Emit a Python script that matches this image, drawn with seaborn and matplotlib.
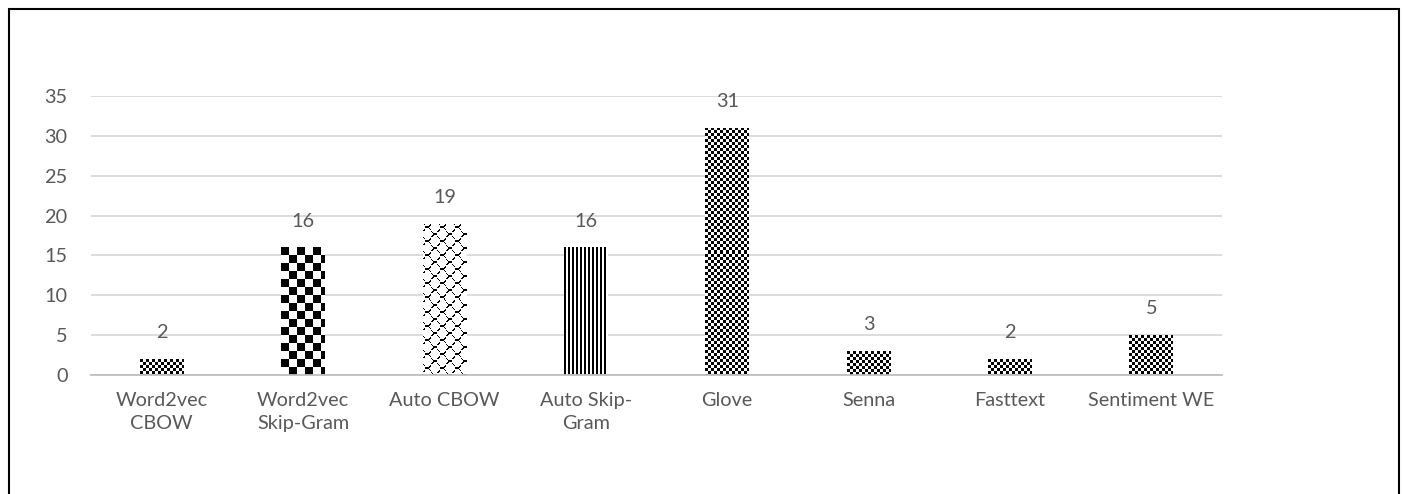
import numpy as np
import matplotlib
matplotlib.use("Agg")
import matplotlib.pyplot as plt
from matplotlib.patches import Rectangle
import seaborn as sns

# Embedding methods and their counts
categories = ["Word2vec\nCBOW", "Word2vec\nSkip-Gram", "Auto CBOW", "Auto Skip-\nGram",
              "Glove", "Senna", "Fasttext", "Sentiment WE"]
counts = [2, 16, 19, 16, 31, 3, 2, 5]
patterns = ["small_check", "large_check", "wave", "vlines",
            "small_check", "small_check", "small_check", "small_check"]
y_ticks = [0, 5, 10, 15, 20, 25, 30, 35]

TEXT = "#595959"
FS = 14.3
sns.set_theme(style="white")
plt.rcParams["font.family"] = ["Lato", "DejaVu Sans"]

fig = plt.figure(figsize=(14.03, 4.94), dpi=100)
ax = fig.add_axes([91 / 1403, 1 - 375 / 494, (1222 - 91) / 1403, (375 - 96) / 494])

sns.barplot(x=categories, y=counts, color="white", width=0.31, ax=ax,
            edgecolor="none", linewidth=0, zorder=2)

ax.set_xlim(-0.5, len(categories) - 0.5)
ax.set_ylim(0, 35)
ax.set_yticks(y_ticks)
ax.set_yticklabels([str(t) for t in y_ticks])
ax.yaxis.grid(True, color="#d9d9d9", linewidth=1.3, zorder=0)
ax.set_axisbelow(True)
for s in ["top", "right", "left"]:
    ax.spines[s].set_visible(False)
ax.spines["bottom"].set_color("#bfbfbf")
ax.spines["bottom"].set_linewidth(1.3)
ax.spines["bottom"].set_zorder(3)

ax.tick_params(axis="y", length=0, pad=17, labelsize=FS, labelcolor=TEXT)
ax.tick_params(axis="x", which="major", length=0, pad=12.5, labelsize=FS, labelcolor=TEXT)
ax.set_xticks(np.arange(-0.5, len(categories), 1.0), minor=True)
ax.tick_params(axis="x", which="minor", length=6, width=1.3, color="#bfbfbf", direction="out")
for lbl in ax.get_xticklabels():
    lbl.set_linespacing(1.42)
ax.set_xlabel("")
ax.set_ylabel("")


def tile_pattern(kind, h, w):
    yy, xx = np.mgrid[0:h, 0:w]
    if kind == "small_check":
        ink = ((xx // 3) + (yy // 3)) % 2 == 0
    elif kind == "large_check":
        ink = ((xx // 8) + (yy // 8)) % 2 == 0
    elif kind == "vlines":
        ink = (xx % 4) < 2
    else:  # interlocking stepped wave
        P, V = 15, 14
        ink = np.zeros((h, w), bool)
        for sgn, shift in ((1, 0), (-1, V // 2)):
            base = np.round(3.5 * np.sin(sgn * 2 * np.pi * xx / P)).astype(int)
            d = (yy - base - shift) % V
            ink |= d == 0
        ink |= np.roll(ink, 1, axis=1) & np.roll(ink, 1, axis=0)
    return np.where(ink, 0.0, 1.0)


fig.canvas.draw()
for patch, kind, val in zip(ax.patches, patterns, counts):
    x0, y0 = patch.get_x(), patch.get_y()
    x1, y1 = x0 + patch.get_width(), y0 + patch.get_height()
    (px0, py0), (px1, py1) = ax.transData.transform([(x0, y0), (x1, y1)])
    w_px, h_px = max(int(round(px1 - px0)), 1), max(int(round(py1 - py0)), 1)
    img = tile_pattern(kind, h_px, w_px)
    im = ax.imshow(img, extent=(x0, x1, y0, y1), cmap="gray", vmin=0, vmax=1,
                   interpolation="nearest", aspect="auto", zorder=2.5, origin="upper")
    im.set_clip_path(patch)
    ax.annotate(str(val), (patch.get_x() + patch.get_width() / 2, y1),
                xytext=(0, 19), textcoords="offset points", ha="center", va="center",
                fontsize=FS, color=TEXT)

ax.set_xlim(-0.5, len(categories) - 0.5)
ax.set_ylim(0, 35)

# Frame around the whole chart area
fig.patches.append(Rectangle((8.5 / 1403, -0.05), (1399 - 8.5) / 1403, 1.05 - 8.5 / 494,
                             transform=fig.transFigure, fill=False, edgecolor="black",
                             linewidth=1.5, zorder=10))

fig.savefig("out.png", dpi=100, facecolor="white")
